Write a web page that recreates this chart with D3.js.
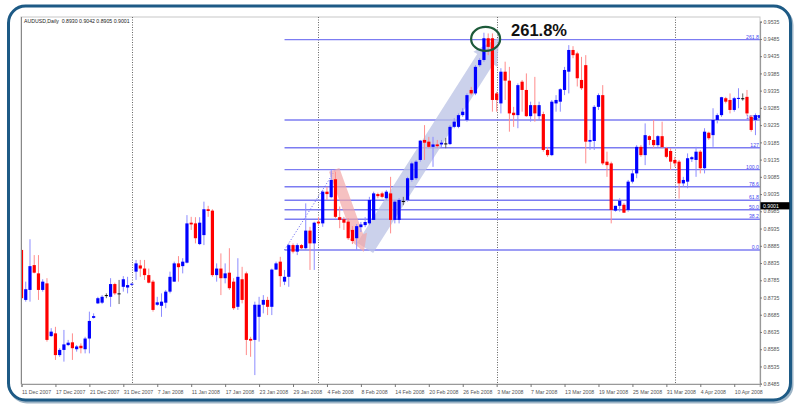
<!DOCTYPE html>
<html><head><meta charset="utf-8">
<script src="https://cdn.jsdelivr.net/npm/d3@7/dist/d3.min.js"></script>
<style>body{margin:0;background:#fff}svg{display:block;font-family:"Liberation Sans",Arial,sans-serif}</style>
</head><body><svg id="c" width="800" height="412"></svg>
<script>
const dateLabels = ["11 Dec 2007","17 Dec 2007","21 Dec 2007","31 Dec 2007","7 Jan 2008","11 Jan 2008","17 Jan 2008","23 Jan 2008","29 Jan 2008","4 Feb 2008","8 Feb 2008","14 Feb 2008","20 Feb 2008","26 Feb 2008","3 Mar 2008","7 Mar 2008","13 Mar 2008","19 Mar 2008","25 Mar 2008","31 Mar 2008","4 Apr 2008","10 Apr 2008"];
const opens = [0.8873,0.8728,0.8757,0.8829,0.8805,0.8757,0.8776,0.8623,0.8631,0.8568,0.8583,0.8597,0.8605,0.8585,0.8595,0.8585,0.8616,0.8676,0.8718,0.8720,0.8742,0.8737,0.8774,0.8747,0.8766,0.8764,0.8772,0.8810,0.8828,0.8819,0.8800,0.8781,0.8714,0.8711,0.8720,0.8752,0.8781,0.8834,0.8826,0.8836,0.8952,0.8950,0.8890,0.8916,0.8991,0.8987,0.8800,0.8819,0.8791,0.8807,0.8781,0.8708,0.8788,0.8805,0.8615,0.8612,0.8679,0.8714,0.8728,0.8708,0.8816,0.8839,0.8781,0.8795,0.8887,0.8868,0.8887,0.8878,0.8929,0.8892,0.8955,0.8950,0.9042,0.9026,0.9078,0.8968,0.8962,0.8955,0.8931,0.8907,0.8939,0.8945,0.8950,0.8960,0.9035,0.9037,0.9023,0.9037,0.8960,0.8960,0.9015,0.9018,0.9076,0.9081,0.9134,0.9192,0.9187,0.9172,0.9179,0.9179,0.9182,0.9180,0.9230,0.9230,0.9264,0.9250,0.9337,0.9327,0.9409,0.9424,0.9487,0.9487,0.9327,0.9298,0.9390,0.9364,0.9271,0.9264,0.9361,0.9337,0.9261,0.9293,0.9261,0.9267,0.9163,0.9148,0.9298,0.9303,0.9337,0.9390,0.9453,0.9443,0.9366,0.9409,0.9187,0.9189,0.9288,0.9322,0.9129,0.9124,0.8987,0.9001,0.9004,0.8989,0.9071,0.9095,0.9172,0.9148,0.9203,0.9192,0.9177,0.9203,0.9168,0.9160,0.9134,0.9129,0.9066,0.9071,0.9136,0.9134,0.9158,0.9110,0.9213,0.9206,0.9250,0.9264,0.9313,0.9308,0.9279,0.9311,0.9313,0.9317,0.9259,0.9250,0.9256];
const highs = [0.8892,0.8781,0.8904,0.8858,0.8858,0.8788,0.8791,0.8646,0.8650,0.8588,0.8641,0.8612,0.8631,0.8597,0.8602,0.8621,0.8694,0.8689,0.8737,0.8742,0.8747,0.8791,0.8778,0.8786,0.8797,0.8795,0.8778,0.8844,0.8844,0.8844,0.8819,0.8786,0.8737,0.8747,0.8757,0.8810,0.8839,0.8855,0.8849,0.8974,0.8969,0.8968,0.8968,0.9013,0.9001,0.8991,0.8834,0.8863,0.8834,0.8878,0.8791,0.8849,0.8824,0.8810,0.8621,0.8723,0.8737,0.8742,0.8737,0.8819,0.8839,0.8853,0.8815,0.8892,0.8892,0.8892,0.8890,0.9008,0.8940,0.8955,0.8969,0.9047,0.9056,0.9105,0.9100,0.8999,0.8969,0.8965,0.8942,0.8948,0.8954,0.8968,0.9027,0.9042,0.9039,0.9042,0.9047,0.9085,0.9018,0.9023,0.9027,0.9085,0.9129,0.9134,0.9192,0.9235,0.9201,0.9201,0.9192,0.9192,0.9198,0.9235,0.9255,0.9269,0.9284,0.9327,0.9346,0.9409,0.9429,0.9503,0.9501,0.9501,0.9332,0.9400,0.9419,0.9404,0.9288,0.9356,0.9366,0.9385,0.9303,0.9375,0.9303,0.9274,0.9172,0.9308,0.9322,0.9342,0.9404,0.9467,0.9464,0.9448,0.9433,0.9438,0.9221,0.9293,0.9327,0.9351,0.9158,0.9129,0.9001,0.9023,0.9009,0.9076,0.9105,0.9177,0.9177,0.9240,0.9206,0.9250,0.9206,0.9245,0.9172,0.9168,0.9143,0.9134,0.9085,0.9153,0.9145,0.9172,0.9163,0.9226,0.9216,0.9284,0.9269,0.9317,0.9317,0.9327,0.9317,0.9342,0.9327,0.9337,0.9264,0.9269,0.9264];
const lows = [0.8708,0.8723,0.8723,0.8805,0.8728,0.8752,0.8607,0.8621,0.8554,0.8563,0.8549,0.8594,0.8554,0.8578,0.8573,0.8573,0.8573,0.8674,0.8716,0.8716,0.8733,0.8708,0.8742,0.8716,0.8752,0.8747,0.8768,0.8786,0.8795,0.8786,0.8776,0.8694,0.8711,0.8679,0.8704,0.8747,0.8781,0.8781,0.8805,0.8834,0.8931,0.8892,0.8887,0.8887,0.8969,0.8795,0.8781,0.8742,0.8776,0.8757,0.8699,0.8699,0.8718,0.8568,0.8563,0.8510,0.8607,0.8689,0.8684,0.8684,0.8815,0.8766,0.8771,0.8766,0.8863,0.8858,0.8875,0.8873,0.8815,0.8815,0.8945,0.8940,0.9018,0.9023,0.8965,0.8936,0.8931,0.8902,0.8890,0.8873,0.8925,0.8939,0.8945,0.8960,0.9023,0.9023,0.9018,0.8921,0.8950,0.8950,0.9003,0.9013,0.9071,0.9076,0.9129,0.9134,0.9168,0.9114,0.9168,0.9172,0.9168,0.9177,0.9226,0.9226,0.9259,0.9245,0.9322,0.9322,0.9404,0.9419,0.9438,0.9274,0.9274,0.9269,0.9308,0.9216,0.9230,0.9226,0.9274,0.9259,0.9245,0.9245,0.9250,0.9158,0.9143,0.9145,0.9274,0.9274,0.9322,0.9327,0.9429,0.9347,0.9337,0.9124,0.9163,0.9163,0.9279,0.9119,0.9085,0.8950,0.8984,0.8984,0.8980,0.8984,0.9066,0.9081,0.9143,0.9119,0.9177,0.9168,0.9172,0.9168,0.9139,0.9105,0.9114,0.9022,0.9056,0.9052,0.9128,0.9085,0.9095,0.9095,0.9192,0.9172,0.9240,0.9259,0.9298,0.9269,0.9274,0.9284,0.9306,0.9264,0.9216,0.9206,0.9253];
const closes = [0.8733,0.8759,0.8826,0.8807,0.8757,0.8781,0.8612,0.8636,0.8568,0.8583,0.8599,0.8604,0.8588,0.8593,0.8588,0.8616,0.8667,0.8681,0.8733,0.8737,0.8742,0.8774,0.8747,0.8747,0.8788,0.8771,0.8775,0.8834,0.8819,0.8800,0.8778,0.8699,0.8721,0.8723,0.8752,0.8795,0.8834,0.8823,0.8839,0.8950,0.8947,0.8907,0.8952,0.8991,0.8986,0.8800,0.8819,0.8791,0.8805,0.8762,0.8704,0.8795,0.8728,0.8612,0.8610,0.8714,0.8714,0.8728,0.8708,0.8816,0.8834,0.8797,0.8795,0.8887,0.8868,0.8887,0.8878,0.8929,0.8892,0.8952,0.8950,0.9042,0.9035,0.9076,0.8969,0.8960,0.8952,0.8907,0.8899,0.8942,0.8947,0.8954,0.9018,0.9037,0.9029,0.9027,0.9042,0.8960,0.9013,0.9018,0.9015,0.9081,0.9124,0.9129,0.9190,0.9184,0.9172,0.9179,0.9174,0.9184,0.9182,0.9230,0.9245,0.9264,0.9274,0.9322,0.9327,0.9404,0.9424,0.9487,0.9462,0.9308,0.9308,0.9390,0.9364,0.9269,0.9264,0.9351,0.9337,0.9261,0.9293,0.9269,0.9293,0.9163,0.9148,0.9303,0.9308,0.9339,0.9395,0.9453,0.9438,0.9371,0.9342,0.9187,0.9192,0.9288,0.9322,0.9124,0.9119,0.8989,0.9001,0.9016,0.8981,0.9071,0.9095,0.9172,0.9148,0.9206,0.9192,0.9177,0.9203,0.9171,0.9143,0.9129,0.9124,0.9066,0.9076,0.9139,0.9142,0.9158,0.9110,0.9216,0.9197,0.9250,0.9264,0.9316,0.9303,0.9279,0.9313,0.9314,0.9313,0.9269,0.9221,0.9264,0.9264];
const priceTicks = [0.8485,0.8535,0.8585,0.8635,0.8685,0.8735,0.8785,0.8835,0.8885,0.8935,0.8985,0.9035,0.9085,0.9135,0.9185,0.9235,0.9285,0.9335,0.9385,0.9435,0.9485,0.9535];
const separatorBars = [26,70,112,154];
const fibLevels = [0,38.2,50,61.8,78.6,100,127.2,161.8,261.8];
const fibLabels = ["0.0","38.2","50.0","61.8","78.6","100.0","127","161.8","261.8"];
const fibLow = 0.8873, fibHigh = 0.9106, fibStartBar = 62, fibEndBar = 74;
const titleText = "AUDUSD,Daily  0.8930 0.9042 0.8905 0.9001";
const lastPrice = 0.9001;
const redArrow = {from:[73.7,0.9105], to:[80.7,0.8867]};
const blueArrow = {from:[81.0,0.8879], to:[112.6,0.9490]};
const ellipseAt = [109.4,0.9485];
const noteText = "261.8%", noteAt = [115.4,0.9494];

const svg = d3.select("#c");
const L=21, R=760, T=17, B=384;
const x = d3.scaleLinear().domain([0,174]).range([21.5,759.7]);
const y = d3.scaleLinear().domain([0.8485,0.9535]).range([383.7,21.7]);

// outer frame
svg.append("rect").attr("x",10).attr("y",8).attr("width",782).attr("height",394).attr("rx",17)
  .attr("fill","none").attr("stroke","#9db4c6").attr("stroke-width",3);
svg.append("rect").attr("x",8.5).attr("y",6).attr("width",782).attr("height",394).attr("rx",17)
  .attr("fill","#fff").attr("stroke","#1d5a85").attr("stroke-width",3);

svg.append("defs").append("clipPath").attr("id","clip").append("rect")
  .attr("x",L).attr("y",T).attr("width",R-L).attr("height",B-T);
svg.append("rect").attr("x",L).attr("y",T).attr("width",R-L).attr("height",B-T)
  .attr("fill","#fff").attr("stroke","#c8c8c8").attr("stroke-width",1);

const g = svg.append("g").attr("clip-path","url(#clip)");

// separators
g.selectAll("line.sep").data(separatorBars).join("line")
  .attr("x1",d=>Math.round(x(d))+0.5).attr("x2",d=>Math.round(x(d))+0.5).attr("y1",T).attr("y2",B)
  .attr("stroke","#666").attr("stroke-dasharray","1,1.5").attr("stroke-width",1);

// fib lines
const fy = lv => y(fibLow + (fibHigh-fibLow)*lv/100);
g.selectAll("line.fib").data(fibLevels).join("line")
  .attr("x1",x(fibStartBar)).attr("x2",R).attr("y1",d=>fy(d)).attr("y2",d=>fy(d))
  .attr("stroke","#7c7cf2").attr("stroke-width",1.4);
g.selectAll("text.fib").data(fibLevels).join("text")
  .attr("x",R-1).attr("y",d=>fy(d)-1).attr("text-anchor","end")
  .attr("font-size",5.2).attr("fill","#4a4af0").text((d,i)=>fibLabels[i]);
g.append("line").attr("x1",x(fibStartBar)).attr("y1",y(fibLow)).attr("x2",x(fibEndBar)).attr("y2",y(fibHigh))
  .attr("stroke","#5a5af0").attr("stroke-width",1).attr("stroke-dasharray","1,2");

// arrows
function arrowPath(a, shaftHW, headHW, headLen){
  const p0=[x(a.from[0]),y(a.from[1])], p1=[x(a.to[0]),y(a.to[1])];
  const dx=p1[0]-p0[0], dy=p1[1]-p0[1], len=Math.hypot(dx,dy);
  const u=[dx/len,dy/len], n=[-u[1],u[0]];
  const b=[p1[0]-u[0]*headLen, p1[1]-u[1]*headLen];
  const pts=[
    [p0[0]+n[0]*shaftHW,p0[1]+n[1]*shaftHW],
    [b[0]+n[0]*shaftHW,b[1]+n[1]*shaftHW],
    [b[0]+n[0]*headHW,b[1]+n[1]*headHW],
    p1,
    [b[0]-n[0]*headHW,b[1]-n[1]*headHW],
    [b[0]-n[0]*shaftHW,b[1]-n[1]*shaftHW],
    [p0[0]-n[0]*shaftHW,p0[1]-n[1]*shaftHW]];
  return d3.line()(pts)+"Z";
}
g.append("path").attr("d",arrowPath(blueArrow,9.5,14,26)).attr("fill","#b9c2e4").attr("opacity",0.75);
g.append("path").attr("d",arrowPath(redArrow,5.5,9.5,17)).attr("fill","#f2a6a6").attr("opacity",0.7);

// candles
const idx = d3.range(opens.length);
const col = i => closes[i]>opens[i] ? "#0000ff" : (closes[i]<opens[i] ? "#ff0000" : "#000");
const wcol = i => closes[i]>opens[i] ? "#8c8cff" : (closes[i]<opens[i] ? "#ff8c8c" : "#666");
g.selectAll("line.wick").data(idx).join("line")
  .attr("x1",i=>x(i)).attr("x2",i=>x(i)).attr("y1",i=>y(highs[i])).attr("y2",i=>y(lows[i]))
  .attr("stroke",wcol).attr("stroke-width",1);
g.selectAll("rect.body").data(idx).join("rect")
  .attr("x",i=>x(i)-1.6).attr("width",3.2)
  .attr("y",i=>y(Math.max(opens[i],closes[i])))
  .attr("height",i=>Math.max(1,Math.abs(y(opens[i])-y(closes[i]))))
  .attr("fill",col);

// ellipse + note
svg.append("ellipse").attr("cx",x(ellipseAt[0])).attr("cy",y(ellipseAt[1])).attr("rx",14.5).attr("ry",12)
  .attr("fill","none").attr("stroke","#1d5a3a").attr("stroke-width",2.2);
svg.append("text").attr("x",x(noteAt[0])).attr("y",y(noteAt[1])).attr("font-size",16.5).attr("font-weight","bold")
  .attr("fill","#111").text(noteText);

// title
svg.append("text").attr("x",24).attr("y",22.5).attr("font-size",5.2).attr("fill","#222").attr("xml:space","preserve").text(titleText);

// right axis
const ay = svg.append("g").attr("transform",`translate(${R},0)`)
  .call(d3.axisRight(y).tickValues(priceTicks).tickFormat(d3.format(".4f")).tickSize(2).tickPadding(1.5));
ay.select(".domain").attr("stroke","#999").attr("stroke-width",1.2);
ay.selectAll(".tick line").attr("stroke","#777");
ay.selectAll("text").attr("font-size",5.2).attr("fill","#555").attr("font-family","Liberation Sans, Arial");

// bottom axis
const ax = svg.append("g").attr("transform",`translate(0,${B})`)
  .call(d3.axisBottom(x).tickValues(d3.range(0,169,8)).tickFormat((d,i)=>dateLabels[i]).tickSize(3).tickPadding(3));
ax.select(".domain").attr("stroke","#999");
ax.selectAll(".tick line").attr("stroke","#777");
ax.selectAll("text").attr("font-size",5.2).attr("fill","#555").attr("text-anchor","start").attr("dx",0)
  .attr("font-family","Liberation Sans, Arial");
svg.append("line").attr("x1",L+0.5).attr("x2",L+0.5).attr("y1",T).attr("y2",B).attr("stroke","#888");

// last price box
svg.append("rect").attr("x",R+0.5).attr("y",y(lastPrice)-3.6).attr("width",29).attr("height",7.2).attr("fill","#000");
svg.append("text").attr("x",R+3).attr("y",y(lastPrice)+1.9).attr("font-size",5.2).attr("fill","#fff").text(lastPrice.toFixed(4));
</script></body></html>
